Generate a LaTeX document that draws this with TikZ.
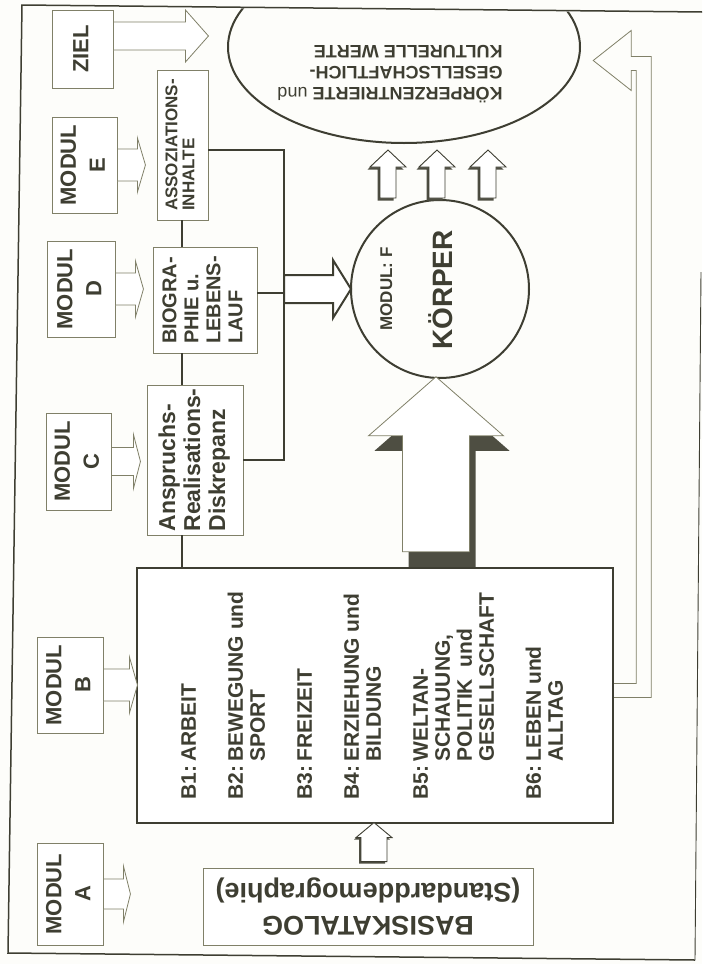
\documentclass[tikz,border=0pt]{standalone}
\usepackage{fontspec}
\setmainfont{Liberation Sans}
\usepackage{graphicx}
\usetikzlibrary{calc, shapes.geometric}

\definecolor{ink}{RGB}{62,62,50}
\definecolor{pale}{RGB}{128,128,104}
\definecolor{darkshade}{RGB}{78,78,66}
\definecolor{paper}{RGB}{253,253,250}

%% text turned to read from bottom to top
\newcommand\uptext[2][c]{\rotatebox{90}{\begin{tabular}{@{}#1@{}}#2\end{tabular}}}
%% text turned upside down
\newcommand\flipped[2][c]{\rotatebox{180}{\begin{tabular}{@{}#1@{}}#2\end{tabular}}}
%% block arrow: [style]{tail}{angle}{length}{shaft half}{head half}{head length}
\newcommand\blockarrow[7][]{%
  \draw[#1, shift={(#2)}, rotate=#3]
    (0,-#5) -- ({#4-#7},-#5) -- ({#4-#7},-#6) -- (#4,0)
    -- ({#4-#7},#6) -- ({#4-#7},#5) -- (0,#5) -- cycle;}

\begin{document}
\begin{tikzpicture}[
  x=1pt, y=-1pt,
  every node/.style={text=ink, inner sep=0pt, font=\bfseries},
  box/.style={draw=pale, line width=0.9pt, fill=white},
  modbox/.style={box, font=\bfseries\fontsize{22}{29}\selectfont,
    minimum width=66pt, minimum height=96pt},
  hollow/.style={draw=pale, line width=0.8pt, fill=white},
  darkarrow/.style={draw=ink, line width=0.9pt, fill=white},
  heavyarrow/.style={draw=ink, line width=2pt, fill=white},
  shadefill/.style={draw=none, fill=darkshade},
  conn/.style={draw=ink, line width=2.2pt},
]
\useasboundingbox (0,0) rectangle (702,964);

%% ── background and frame ─────────────────────────────────────────────────────
\fill[paper] (0,0) rectangle (702,964);
\draw[ink, line width=1.5pt] (702,12) -- (22,5) -- (8,953) -- (695,960);
\draw[ink, line width=0.9pt] (695,960) -- (701,272);

%% ── goal ellipse, cut by the frame ───────────────────────────────────────────
\begin{scope}
  \clip (22,6) -- (702,13) -- (702,300) -- (0,300) -- cycle;
  \node[ellipse, draw=ink, line width=2pt, minimum width=352pt,
    minimum height=192pt] (werte) at (404,47) {};
\end{scope}
\node[font=\bfseries\fontsize{18}{21}\selectfont] (werteText) at (390,71)
  {\flipped[l]{KÖRPERZENTRIERTE {\mdseries und}\\GESELLSCHAFTLICH-\\KULTURELLE WERTE}};

%% ── module column ────────────────────────────────────────────────────────────
\node[modbox, minimum width=61pt, minimum height=78pt] (ziel) at (82.5,49) {\uptext{ZIEL}};
\node[modbox, minimum width=65pt] (modE) at (84.5,165) {\uptext{MODUL\\E}};
\node[modbox, minimum width=68pt] (modD) at (81,289) {\uptext{MODUL\\D}};
\node[modbox, minimum width=65pt, minimum height=97pt] (modC) at (78.5,461.5) {\uptext{MODUL\\C}};
\node[modbox] (modB) at (70,685) {\uptext{MODUL\\B}};
\node[modbox, minimum height=102pt] (modA) at (70,894) {\uptext{MODUL\\A}};

%% ── content boxes ────────────────────────────────────────────────────────────
\node[box, minimum width=51pt, minimum height=150pt,
  font=\bfseries\fontsize{17}{17}\selectfont] (assoz) at (182.5,145)
  {\uptext[l]{ASSOZIATIONS-\\INHALTE}};
\node[box, minimum width=104pt, minimum height=106pt,
  font=\bfseries\fontsize{20}{22}\selectfont] (bio) at (205,300)
  {\uptext[l]{BIOGRA-\\PHIE u.\\LEBENS-\\LAUF}};
\node[box, minimum width=96pt, minimum height=150pt,
  font=\bfseries\fontsize{23}{25}\selectfont] (ansp) at (195,460)
  {\uptext[l]{Anspruchs-\\Realisations-\\Diskrepanz}};

\node[draw=ink, line width=2.4pt, fill=white, minimum width=476pt, minimum height=255pt,
  font=\bfseries\fontsize{21}{22}\selectfont] (bbox) at (375,695.5)
  {\rotatebox{90}{\begin{tabular}{@{}l@{\hspace{4pt}}l@{}}
    B1: & ARBEIT\\[25pt]
    B2: & BEWEGUNG und\\
        & SPORT\\[25pt]
    B3: & FREIZEIT\\[25pt]
    B4: & ERZIEHUNG und\\
        & BILDUNG\\[25pt]
    B5: & WELTAN-\\
        & SCHAUUNG,\\
        & POLITIK \ und\\
        & GESELLSCHAFT\\[25pt]
    B6: & LEBEN und\\
        & ALLTAG
  \end{tabular}}};

\node[box, minimum width=330pt, minimum height=77pt,
  font=\bfseries\fontsize{27}{33}\selectfont] (basis) at (368,906.5)
  {\flipped{BASISKATALOG\\(Standarddemographie)}};

%% ── body circle ──────────────────────────────────────────────────────────────
\node[circle, draw=ink, line width=2pt, minimum size=178pt] (koerper) at (440,289) {};
\node[font=\bfseries\fontsize{17}{20}\selectfont] (koerperMod) at (388,289) {\uptext{MODUL: F}};
\node[font=\bfseries\fontsize{28}{30}\selectfont] (koerperName) at (445,290) {\uptext{KÖRPER}};

%% ── block arrows ─────────────────────────────────────────────────────────────
\blockarrow[hollow]{$(ziel.east)+(0,-13)$}{0}{95}{14}{26}{23}
\blockarrow[hollow]{modE.east}{0}{28}{16}{27}{8}
\blockarrow[hollow]{modD.east}{0}{28}{16}{28}{8}
\blockarrow[hollow]{modC.east}{0}{29}{14}{27}{7}
\blockarrow[hollow]{modB.east}{0}{34}{16}{28}{8}
\blockarrow[hollow]{modA.east}{0}{27}{15}{28}{7}

% basis -> B box, with its shadow
\blockarrow[shadefill]{$(basis.north)+(4,-4)$}{90}{39}{13}{18}{15}
\blockarrow[darkarrow]{$(basis.north)+(6,-6)$}{90}{39}{13}{18}{15}

% B box -> body, the big one
\blockarrow[shadefill]{$(koerper.south |- bbox.north)+(2,0)$}{90}{175}{33.5}{67.5}{59}
\blockarrow[hollow]{$(koerper.south |- bbox.north)+(-4,-15)$}{90}{175}{33.5}{67.5}{59}

% body -> values
\foreach \ax in {388,437,488} {
  \blockarrow[shadefill]{\ax-2.5,200.5}{90}{48}{8}{18}{17}
  \blockarrow[darkarrow]{\ax,198}{90}{48}{8}{18}{17}
}

%% ── connectors ───────────────────────────────────────────────────────────────
\coordinate (trunk) at (284,0);
\coordinate (spine) at (182,0);
\blockarrow[heavyarrow]{trunk |- koerper.west}{0}{67}{14}{29}{18}
\draw[conn] ([yshift=-5pt]assoz.east) -| (trunk |- ansp.east) -- (ansp.east);
\draw[conn] ([yshift=7pt]bio.east) -- ([yshift=7pt]bio.east -| trunk);
\draw[conn] (spine |- assoz.south) -- (spine |- bio.north);
\draw[conn] (spine |- bio.south) -- (spine |- ansp.north);
\draw[conn] (spine |- ansp.south) -- (spine |- bbox.north);

%% return path from the B box back up to the goal
\draw[hollow, fill=none] ([yshift=12pt]bbox.east) -- ++(22,0) -- ++(0,-613) -- ++(-5,0)
  -- ++(0,20) -- ++(-38,-30) -- ++(38,-30) -- ++(0,26) -- ++(20,0) -- ++(0,641) -- ++(-37,0);

\end{tikzpicture}
\end{document}
